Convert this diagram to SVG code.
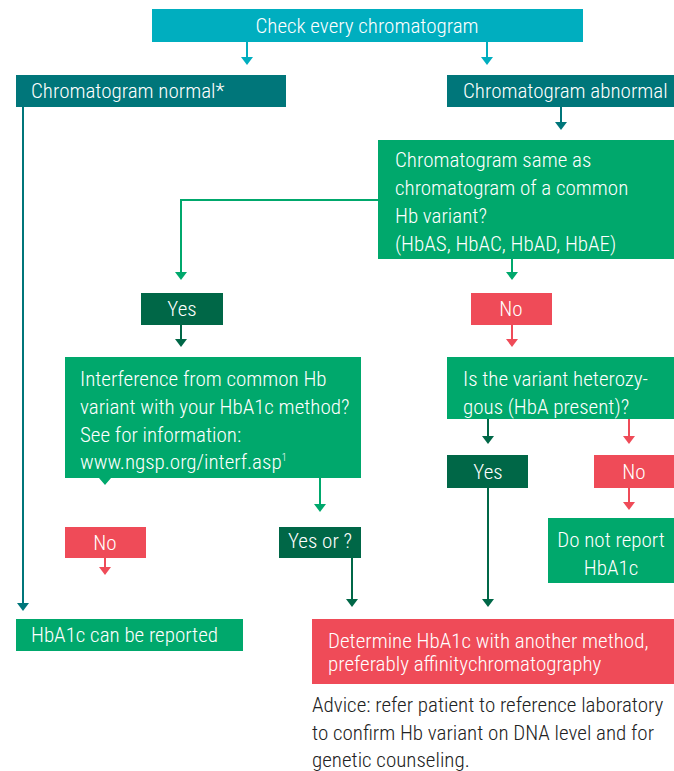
<svg xmlns="http://www.w3.org/2000/svg" width="674" height="771" viewBox="0 0 674 771">
<style>
text{font-family:"Liberation Sans Narrow","Roboto Condensed","Liberation Sans",Arial,sans-serif;font-size:21px;font-weight:300;fill:#fff}
.adv{fill:#222}
.c{text-anchor:middle}
.teal{fill:#00AEBF}.dteal{fill:#00767A}.green{fill:#00A86C}.dgreen{fill:#006747}.red{fill:#EF4B58}
.l{fill:none;stroke-width:2}
</style>
<g id="connectors">
<path d="M247,42V58M487,42V58" stroke="#00AEBF" class="l"/>
<path d="M241,57H253L247,65ZM481,57H493L487,65Z" fill="#00AEBF"/>
<path d="M23,107V604M561,107V123" stroke="#00767A" class="l"/>
<path d="M17,603H29L23,611ZM555,122H567L561,130Z" fill="#00767A"/>
<path d="M378,200H181V273M512,259V273M320,478V505" stroke="#00A86C" class="l"/>
<path d="M175,272H187L181,280ZM506,272H518L512,280ZM314,504H326L320,512ZM99,478H111L105,485Z" fill="#00A86C"/>
<path d="M181,325V340M488,419V437M488,488V600M352,558V600" stroke="#006747" class="l"/>
<path d="M175,339H187L181,347ZM482,436H494L488,444ZM482,599H494L488,607ZM346,599H358L352,607Z" fill="#006747"/>
<path d="M512,325V340M629,419V437M629,488V503M105,558V568" stroke="#EF4B58" class="l"/>
<path d="M506,339H518L512,347ZM623,436H635L629,444ZM623,502H635L629,510ZM99,567H111L105,575Z" fill="#EF4B58"/>
</g>
<g id="n1"><rect class="teal" x="152" y="9" width="431" height="33"/><text class="c" x="367" y="33">Check every chromatogram</text></g>
<g id="n2"><rect class="dteal" x="16" y="75" width="270" height="32"/><text x="31" y="98">Chromatogram normal*</text></g>
<g id="n3"><rect class="dteal" x="447" y="75" width="227" height="32"/><text x="463" y="98">Chromatogram abnormal</text></g>
<g id="n4"><rect class="green" x="378" y="140" width="296" height="119"/>
<text x="395" y="167">Chromatogram same as</text><text x="395" y="195">chromatogram of a common</text><text x="395" y="223">Hb variant?</text><text x="395" y="251">(HbAS, HbAC, HbAD, HbAE)</text></g>
<g id="n5"><rect class="dgreen" x="141" y="293" width="82" height="32"/><text class="c" x="182" y="316">Yes</text></g>
<g id="n6"><rect class="red" x="471" y="293" width="81" height="32"/><text class="c" x="511" y="316">No</text></g>
<g id="n7"><rect class="green" x="65" y="357" width="296" height="121"/>
<text x="80" y="386">Interference from common Hb</text><text x="80" y="414">variant with your HbA1c method?</text><text x="80" y="442">See for information:</text><text x="80" y="469">www.ngsp.org/interf.asp<tspan font-size="10" dy="-8">1</tspan></text></g>
<g id="n8"><rect class="green" x="447" y="357" width="227" height="62"/>
<text x="463" y="386">Is the variant heterozy-</text><text x="463" y="414">gous (HbA present)?</text></g>
<g id="n9"><rect class="dgreen" x="447" y="455" width="81" height="33"/><text class="c" x="488" y="479">Yes</text></g>
<g id="n10"><rect class="red" x="594" y="455" width="80" height="33"/><text class="c" x="634" y="479">No</text></g>
<g id="n11"><rect class="red" x="65" y="527" width="81" height="31"/><text class="c" x="105" y="550">No</text></g>
<g id="n12"><rect class="dgreen" x="279" y="527" width="82" height="31"/><text class="c" x="320" y="548">Yes or ?</text></g>
<g id="n13"><rect class="green" x="548" y="518" width="126" height="65"/><text class="c" x="611" y="547">Do not report</text><text class="c" x="611" y="575">HbA1c</text></g>
<g id="n14"><rect class="green" x="16" y="619" width="227" height="32"/><text x="31" y="642">HbA1c can be reported</text></g>
<g id="n15"><rect class="red" x="312" y="619" width="362" height="65"/><text x="328" y="648">Determine HbA1c with another method,</text><text x="328" y="671">preferably affinitychromatography</text></g>
<g id="n16"><text class="adv" x="312" y="712">Advice: refer patient to reference laboratory</text><text class="adv" x="312" y="740">to confirm Hb variant on DNA level and for</text><text class="adv" x="312" y="767">genetic counseling.</text></g>
</svg>
